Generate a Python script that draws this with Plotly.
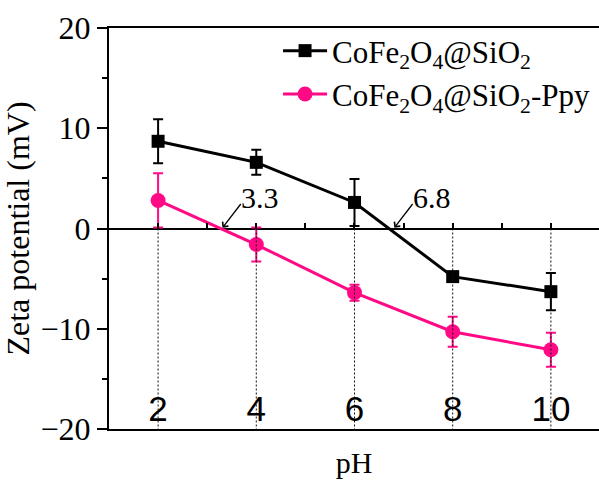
import plotly.graph_objects as go

ph = [2, 4, 6, 8, 10]
sio2 = [8.7, 6.6, 2.6, -4.8, -6.3]
sio2_err = [2.2, 1.25, 2.35, 0.0, 1.85]
ppy = [2.8, -1.6, -6.4, -10.3, -12.1]
ppy_err = [2.7, 1.7, 0.8, 1.5, 1.7]
iep_labels = ["3.3", "6.8"]
iep_values = [3.3, 6.8]
y_range = [-20, 20]
x_range = [1, 10.98]

BLACK = "#000000"
PINK = "#FF0A84"
SERIF = "Liberation Serif"
SANS = "Liberation Sans"

fig = go.Figure()

# dotted vertical guides from 0 down to the bottom
gx, gy = [], []
for p in ph:
    gx += [p, p, None]
    gy += [0, y_range[0], None]
fig.add_trace(go.Scatter(x=gx, y=gy, mode="lines", showlegend=False,
                         line=dict(color="#111111", width=1, dash="2px,2px"),
                         hoverinfo="skip", xaxis="x2"))

fig.add_trace(go.Scatter(
    x=ph, y=sio2, mode="lines+markers",
    name="CoFe<sub>2</sub>O<sub>4</sub>@SiO<sub>2</sub>",
    line=dict(color=BLACK, width=3),
    marker=dict(symbol="square", size=13, color=BLACK),
    error_y=dict(type="data", array=sio2_err, visible=True, color=BLACK,
                 thickness=2, width=5)))
fig.add_trace(go.Scatter(
    x=ph, y=ppy, mode="lines+markers",
    name="CoFe<sub>2</sub>O<sub>4</sub>@SiO<sub>2</sub>-Ppy",
    line=dict(color=PINK, width=3),
    marker=dict(symbol="circle", size=15, color=PINK),
    error_y=dict(type="data", array=ppy_err, visible=True, color=PINK,
                 thickness=2, width=5)))

for txt, xv in zip(iep_labels, iep_values):
    fig.add_annotation(x=xv, y=0, text="", showarrow=True,
                       arrowhead=4, arrowsize=1.1, arrowwidth=1.3,
                       arrowcolor=BLACK, ax=20, ay=-26, standoff=1)
    fig.add_annotation(x=xv, y=0, text=txt, showarrow=False,
                       xanchor="left", yanchor="bottom", xshift=17, yshift=13,
                       font=dict(family=SERIF, size=30, color=BLACK))

fig.update_layout(
    width=599, height=481,
    margin=dict(l=109, r=0, t=28, b=52),
    paper_bgcolor="white", plot_bgcolor="white",
    showlegend=True,
    legend=dict(x=0.345, y=1.01, xanchor="left", yanchor="top",
                bgcolor="rgba(0,0,0,0)",
                font=dict(family=SERIF, size=31, color=BLACK),
                itemwidth=44, tracegroupgap=0),
    xaxis=dict(range=x_range, showticklabels=False, ticks="",
               showline=True, linecolor=BLACK, linewidth=2, mirror=True,
               showgrid=False, zeroline=False,
               title=dict(text="pH", font=dict(family=SERIF, size=30, color=BLACK),
                          standoff=22)),
    xaxis2=dict(range=x_range, overlaying="x", anchor="free", position=0.5,
                side="bottom", dtick=1, tick0=0, ticks="inside", ticklen=6,
                tickwidth=1.5, tickcolor=BLACK, showticklabels=False,
                showline=False, showgrid=False, zeroline=False),
    xaxis3=dict(range=x_range, overlaying="x", anchor="free", position=0.11,
                side="bottom", tickmode="array", tickvals=ph,
                ticktext=[str(p) for p in ph], ticks="",
                tickfont=dict(family=SANS, size=35, color=BLACK),
                showline=False, showgrid=False, zeroline=False),
    yaxis=dict(range=y_range, dtick=10, tick0=0, ticks="outside", ticklen=10,
               tickwidth=1.5, tickcolor=BLACK,
               minor=dict(dtick=5, ticks="outside", ticklen=5, tickwidth=1.5,
                          tickcolor=BLACK),
               tickfont=dict(family=SERIF, size=32, color=BLACK),
               showline=True, linecolor=BLACK, linewidth=2,
               showgrid=False, zeroline=True, zerolinecolor=BLACK, zerolinewidth=2,
               title=dict(text="Zeta potential (mV)",
                          font=dict(family=SERIF, size=32, color=BLACK),
                          standoff=6)),
)
# give xaxis3 a trace so it is drawn
fig.add_trace(go.Scatter(x=ph, y=[None] * len(ph), xaxis="x3",
                         showlegend=False, hoverinfo="skip"))

fig.write_html("out.html")
